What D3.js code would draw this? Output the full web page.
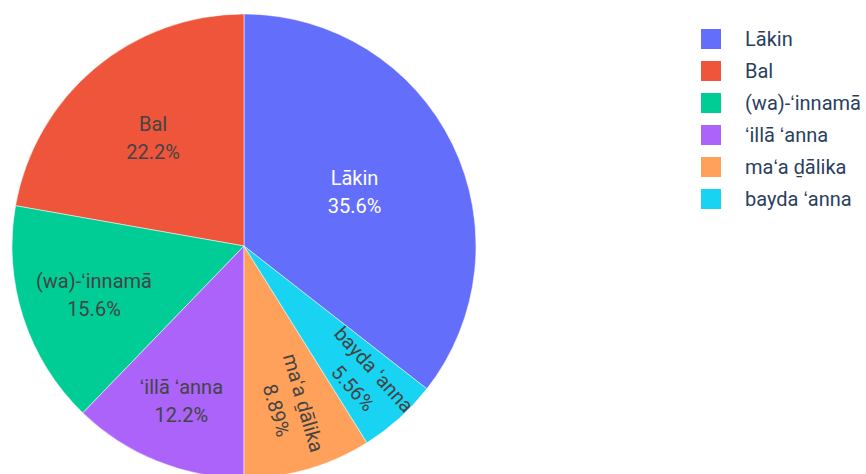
<!DOCTYPE html>
<html>
<head>
<meta charset="utf-8">
<script src="https://cdn.jsdelivr.net/npm/d3@7"></script>
<style>
  body { margin: 0; background: #fff; }
  text { font-family: Roboto, "Open Sans", sans-serif; }
</style>
</head>
<body>
<div id="container"></div>
<script>
/* DATA */
const categories = ["Lākin", "Bal", "(wa)-ʻinnamā", "ʻillā ʻanna", "maʻa ḏālika", "bayda ʻanna"];
const counts = [32, 20, 14, 11, 8, 5];
const colors = ["#636efa", "#EF553B", "#00cc96", "#ab63fa", "#FFA15A", "#19d3f3"];
// slices are drawn clockwise from 12 o'clock in this order
const sliceOrder = ["Lākin", "bayda ʻanna", "maʻa ḏālika", "ʻillā ʻanna", "(wa)-ʻinnamā", "Bal"];
// where each label sits, as a fraction of the radius, and whether it is turned radially
const labelRadius = [0.53, 0.61, 0.68, 0.72, 0.72, 0.77];
const labelRadial = [false, false, false, false, true, true];
const labelWhite = [true, false, false, false, false, false];

/* CONSTANTS */
const width = 866, height = 474;
const cx = 244, cy = 246, r = 232;

const svg = d3.select("#container")
  .append("svg")
    .attr("width", width)
    .attr("height", height);

const data = categories.map((c, i) => ({
  name: c, value: counts[i], color: colors[i],
  lr: labelRadius[i], radial: labelRadial[i], white: labelWhite[i]
}));
const total = d3.sum(counts);

const pie = d3.pie()
  .value(d => d.value)
  .sort((a, b) => sliceOrder.indexOf(a.name) - sliceOrder.indexOf(b.name));
const arcs = pie(data);
const arc = d3.arc().innerRadius(0).outerRadius(r);

const g = svg.append("g")
  .attr("transform", "translate(" + cx + "," + cy + ")");

g.selectAll("path.slice")
  .data(arcs)
  .join("path")
    .attr("class", "slice")
    .attr("d", arc)
    .attr("fill", d => d.data.color)
    .attr("stroke", "#fff")
    .attr("stroke-width", 0.5);

/* LABELS */
const fmt = v => {
  const p = v / total * 100;
  return (p < 10 ? p.toPrecision(3) : p.toFixed(1)) + "%";
};

const labels = g.selectAll("g.label")
  .data(arcs)
  .join("g")
    .attr("class", "label")
    .attr("transform", d => {
      const mid = (d.startAngle + d.endAngle) / 2;
      const [x, y] = d3.pointRadial(mid, r * d.data.lr);
      const rot = d.data.radial ? mid * 180 / Math.PI - 90 : 0;
      return "translate(" + x + "," + y + ") rotate(" + rot + ")";
    });

labels.append("text")
  .attr("text-anchor", "middle")
  .attr("y", -14)
  .attr("dy", "0.35em")
  .style("font-size", "20px")
  .attr("fill", d => d.data.white ? "#fff" : "#444")
  .text(d => d.data.name);

labels.append("text")
  .attr("text-anchor", "middle")
  .attr("y", 14)
  .attr("dy", "0.35em")
  .style("font-size", "20px")
  .attr("fill", d => d.data.white ? "#fff" : "#444")
  .text(d => fmt(d.data.value));

/* LEGEND */
const legend = svg.append("g")
  .attr("transform", "translate(701,39)");

const item = legend.selectAll("g.item")
  .data(data)
  .join("g")
    .attr("class", "item")
    .attr("transform", (d, i) => "translate(0," + i * 32 + ")");

item.append("rect")
  .attr("x", 0)
  .attr("y", -10)
  .attr("width", 20)
  .attr("height", 20)
  .attr("fill", d => d.color);

item.append("text")
  .attr("x", 44)
  .attr("dy", "0.35em")
  .style("font-size", "20px")
  .attr("fill", "#2a3f5f")
  .text(d => d.name);
</script>
</body>
</html>
